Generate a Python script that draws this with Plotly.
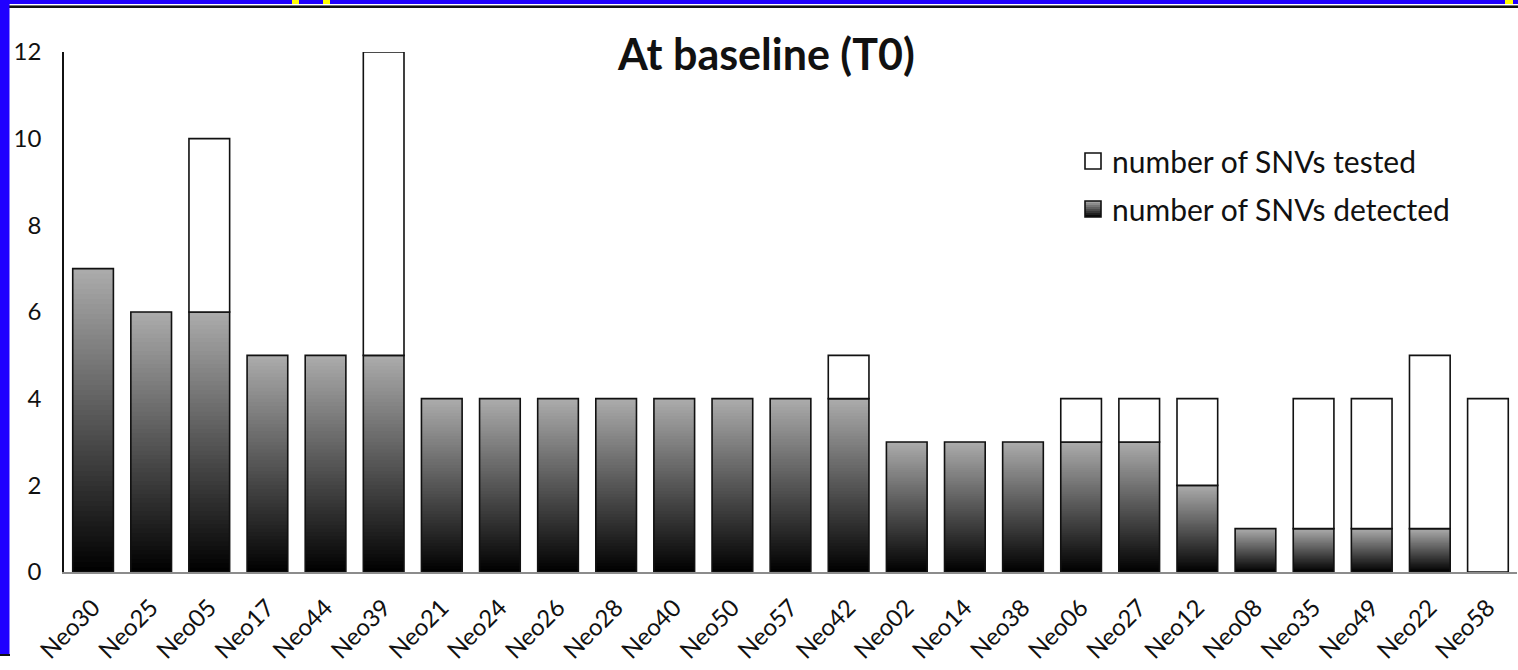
import plotly.graph_objects as go

# Per-patient SNV counts at baseline (T0)
patients = ["Neo30", "Neo25", "Neo05", "Neo17", "Neo44", "Neo39", "Neo21", "Neo24",
            "Neo26", "Neo28", "Neo40", "Neo50", "Neo57", "Neo42", "Neo02", "Neo14",
            "Neo38", "Neo06", "Neo27", "Neo12", "Neo08", "Neo35", "Neo49", "Neo22",
            "Neo58"]
snvs_detected = [7, 6, 6, 5, 5, 5, 4, 4, 4, 4, 4, 4, 4, 4, 3, 3, 3, 3, 3, 2, 1, 1, 1, 1, 0]
snvs_tested = [7, 6, 10, 5, 5, 12, 4, 4, 4, 4, 4, 4, 4, 5, 3, 3, 3, 4, 4, 4, 1, 4, 4, 5, 4]
y_ticks = [0, 2, 4, 6, 8, 10, 12]

W, H = 1518, 670
L, R, T, B = 64, 1, 52, 98
PW, PH = W - L - R, H - T - B


def px(x):
    return (x - L) / PW


def py(y):
    return (H - B - y) / PH


def grey(f):
    # f = 0 at the bar foot (black), 1 at the bar top (light grey)
    v = int(round(172 * f))
    return f"rgb({v},{v},{v})"


fig = go.Figure()

# Gradient fill of the detected bars: nested bars from the base, tallest (lightest) first,
# each shorter and darker one drawn over it
N = 60
for k in range(N - 1, -1, -1):
    fig.add_trace(go.Bar(
        x=patients,
        y=[d * (k + 1) / N if d > 0 else None for d in snvs_detected],
        base=[0] * len(patients),
        marker=dict(color=grey((k + 0.5) / N), line=dict(width=0)),
        showlegend=False, hoverinfo="skip",
    ))

# Outline of the detected part
fig.add_trace(go.Bar(
    x=patients,
    y=[d if d > 0 else None for d in snvs_detected],
    base=[0] * len(patients),
    marker=dict(color="rgba(0,0,0,0)", line=dict(color="#111111", width=1.6)),
    name="number of SNVs detected", showlegend=False,
))

# Tested but not detected, stacked on top in white
remaining = [t - d for t, d in zip(snvs_tested, snvs_detected)]
fig.add_trace(go.Bar(
    x=patients,
    y=[r if r > 0 else None for r in remaining],
    base=snvs_detected,
    marker=dict(color="white", line=dict(color="#111111", width=1.6)),
    name="number of SNVs tested", showlegend=False,
))

shapes = []
annotations = []

# Legend
ICON = 16
lx, ly1, ly2 = 1085, 153, 201
shapes.append(dict(type="rect", xref="paper", yref="paper",
                   x0=px(lx), x1=px(lx + ICON), y0=py(ly1 + ICON), y1=py(ly1),
                   fillcolor="white", line=dict(color="#111111", width=1.6)))
steps = 8
for i in range(steps):
    f = (i + 0.5) / steps
    shapes.append(dict(type="rect", xref="paper", yref="paper",
                       x0=px(lx), x1=px(lx + ICON),
                       y0=py(ly2 + ICON - ICON * i / steps),
                       y1=py(ly2 + ICON - ICON * (i + 1) / steps),
                       fillcolor=grey(f), line=dict(width=0)))
shapes.append(dict(type="rect", xref="paper", yref="paper",
                   x0=px(lx), x1=px(lx + ICON), y0=py(ly2 + ICON), y1=py(ly2),
                   fillcolor="rgba(0,0,0,0)", line=dict(color="#111111", width=1.6)))
for text, yy in [("number of SNVs tested", ly1 + ICON / 2), ("number of SNVs detected", ly2 + ICON / 2)]:
    annotations.append(dict(text=text, xref="paper", yref="paper", x=px(1110), y=py(yy),
                            xanchor="left", yanchor="middle", showarrow=False,
                            font=dict(family="Lato", size=30, color="#111111")))

# Title
annotations.append(dict(text="<b>At baseline (T0)</b>", xref="paper", yref="paper",
                        x=px(766), y=py(54), xanchor="center", yanchor="middle",
                        showarrow=False, font=dict(family="Lato", size=43, color="#111111")))

# Window frame around the chart
frame = [
    (0, W, 0, 4, "#2000FF"),
    (292, 299, 0, 4, "#FFFF00"),
    (323, 330, 0, 4, "#FFFF00"),
    (1505, 1513, 0, 4, "#FFFF00"),
    (0, W, 5, 6, "#777777"),
    (0, W, 6, 8, "#111111"),
    (0, 9.5, 0, 654, "#2000FF"),
    (0, 10, 654, 656, "#111111"),
]
for x0, x1, y0, y1, c in frame:
    shapes.append(dict(type="rect", xref="paper", yref="paper",
                       x0=px(x0), x1=px(x1), y0=py(y1), y1=py(y0),
                       fillcolor=c, line=dict(width=0), layer="above"))

fig.update_layout(
    width=W, height=H,
    margin=dict(l=L, r=R, t=T, b=B, pad=0),
    paper_bgcolor="white", plot_bgcolor="white",
    barmode="overlay", bargap=0.3,
    showlegend=False,
    shapes=shapes, annotations=annotations,
    font=dict(family="Lato", size=24, color="#111111"),
    xaxis=dict(
        type="category", range=[-0.5, len(patients) - 0.5],
        showline=True, linecolor="#8c8c8c", linewidth=2,
        showgrid=False, zeroline=False, ticks="", tickangle=-45,
        tickfont=dict(family="Lato", size=24, color="#111111"),
        ticklabelstandoff=10,
    ),
    yaxis=dict(
        range=[0, 12], tickvals=y_ticks,
        showline=True, linecolor="#111111", linewidth=1.5,
        showgrid=False, zeroline=False, ticks="",
        tickfont=dict(family="Lato", size=24, color="#111111"),
        ticklabelstandoff=16,
    ),
)
for tr in fig.data:
    tr.cliponaxis = False

fig.write_html("out.html")
